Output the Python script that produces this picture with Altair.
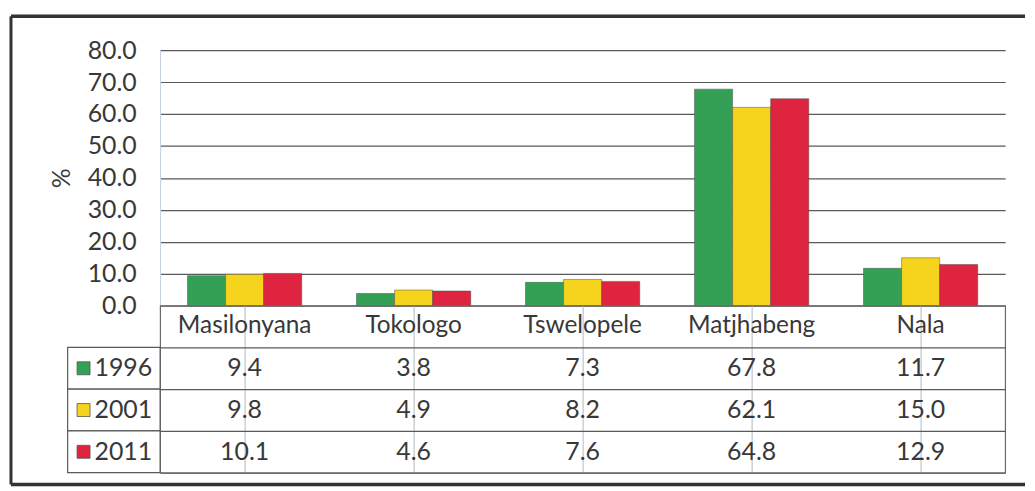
import altair as alt
import pandas as pd

districts = ["Masilonyana", "Tokologo", "Tswelopele", "Matjhabeng", "Nala"]
years = ["1996", "2001", "2011"]
v1996 = [9.4, 3.8, 7.3, 67.8, 11.7]
v2001 = [9.8, 4.9, 8.2, 62.1, 15.0]
v2011 = [10.1, 4.6, 7.6, 64.8, 12.9]
colors = ["#33a055", "#f6d31c", "#df2440"]
y_ticks = [0, 10, 20, 30, 40, 50, 60, 70, 80]

rows = []
for yr, vals in zip(years, [v1996, v2001, v2011]):
    for d, v in zip(districts, vals):
        rows.append({"district": d, "year": yr, "value": v, "row": yr})
df = pd.DataFrame(rows)
hdr = pd.DataFrame({"district": districts, "row": ["header"] * len(districts)})
yrs = pd.DataFrame({"year": years, "row": years})
one = pd.DataFrame({"k": [0]})

FONT = "Lato"
TXT = "#383838"
color_scale = alt.Scale(domain=years, range=colors)

# ---------- top: bar chart ----------
x_top = alt.X("district:N", sort=districts,
              scale=alt.Scale(domain=districts, paddingInner=0.324, paddingOuter=0.162),
              axis=None)
bars = alt.Chart(df).mark_bar(stroke="#444", strokeWidth=1, strokeOpacity=0.45).encode(
    x=x_top,
    xOffset=alt.XOffset("year:N", sort=years, scale=alt.Scale(domain=years, paddingInner=0, paddingOuter=0)),
    y=alt.Y("value:Q", scale=alt.Scale(domain=[0, 80], nice=False),
            axis=alt.Axis(values=y_ticks, format=".1f", title="%", labelFont=FONT,
                          labelFontSize=25, labelColor=TXT, labelPadding=24, ticks=False,
                          domain=True, domainColor="#c3d0de", domainWidth=1,
                          grid=True, gridColor="#5a5a5a", gridWidth=1.2,
                          titleFont=FONT, titleFontSize=25, titleFontWeight="normal",
                          titleColor=TXT, titlePadding=13)),
    color=alt.Color("year:N", scale=color_scale, legend=None),
)

frame_left = alt.Chart(one).mark_rule(color="#333", strokeWidth=3).encode(
    x=alt.value(-150), y=alt.value(-34), y2=alt.value(437))
frame_top = alt.Chart(one).mark_rule(color="#333", strokeWidth=3.5).encode(
    x=alt.value(-150), x2=alt.value(870), y=alt.value(-34))
frame_bot = alt.Chart(one).mark_rule(color="#333", strokeWidth=3.5).encode(
    x=alt.value(-150), x2=alt.value(870), y=alt.value(437))

top = alt.layer(bars, frame_left, frame_top, frame_bot).properties(width=850, height=257)

# ---------- bottom: data table ----------
row_domain = ["header"] + years
x_axis_b = alt.Axis(grid=True, bandPosition=0, labels=False, ticks=False, domain=False,
                    title=None, gridColor="#aeb8c4", gridWidth=1)
y_axis_b = alt.Axis(grid=True, bandPosition=1, labels=False, ticks=False, domain=False,
                    title=None, gridColor="#5a5a5a", gridWidth=1.2)
x_b = alt.X("district:N", sort=districts,
            scale=alt.Scale(domain=districts, paddingInner=0, paddingOuter=0), axis=x_axis_b)
y_b = alt.Y("row:N", scale=alt.Scale(domain=row_domain, paddingInner=0, paddingOuter=0),
            axis=y_axis_b)

header_txt = alt.Chart(hdr).mark_text(font=FONT, fontSize=24.5, color=TXT).encode(
    x=x_b, y=y_b, text="district:N")
value_txt = alt.Chart(df).mark_text(font=FONT, fontSize=25, color=TXT).encode(
    x=x_b, y=y_b, text=alt.Text("value:Q", format=".1f"))
left_box = alt.Chart(yrs).mark_rect(fill="white", stroke="#5a5a5a", strokeWidth=1.2).encode(
    x=alt.value(-93), x2=alt.value(0), y=y_b)
swatch = alt.Chart(yrs).mark_square(size=170, opacity=1, stroke="#555", strokeWidth=0.8).encode(
    x=alt.value(-77), y=y_b, color=alt.Color("year:N", scale=color_scale, legend=None))
year_txt = alt.Chart(yrs).mark_text(font=FONT, fontSize=25, color=TXT, align="right").encode(
    x=alt.value(-8), y=y_b, text="year:N")

bottom = alt.layer(header_txt, value_txt, left_box, swatch, year_txt).properties(
    width=850, height=168, view=alt.ViewBackground(stroke="#6a6a6a", strokeWidth=1.2))

chart = alt.vconcat(top, bottom, spacing=0, bounds="flush").properties(
    padding={"left": 1, "top": 5, "right": 0, "bottom": 0},
    background="white",
).configure_view(stroke=None)

chart.save("out.html", embed_options={"renderer": "svg", "actions": False})
